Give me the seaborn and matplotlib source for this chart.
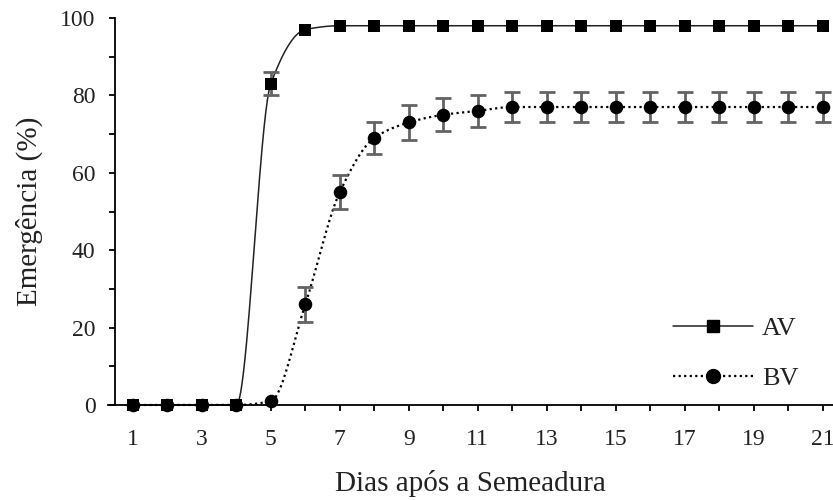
import numpy as np
import pandas as pd
import matplotlib
matplotlib.use("Agg")
import matplotlib.pyplot as plt
import seaborn as sns
from matplotlib.lines import Line2D

# Days after sowing
dias = list(range(1, 22))

# Emergence (%) for each seed lot, with standard errors
av_media = [0, 0, 0, 0, 83, 97, 98, 98, 98, 98, 98, 98, 98, 98, 98, 98, 98, 98, 98, 98, 98]
av_erro = [0, 0, 0, 0, 3, 0, 0, 0, 0, 0, 0, 0, 0, 0, 0, 0, 0, 0, 0, 0, 0]
bv_media = [0, 0, 0, 0, 1, 26, 55, 69, 73, 75, 76, 77, 77, 77, 77, 77, 77, 77, 77, 77, 77]
bv_erro = [0, 0, 0, 0, 0, 4.6, 4.4, 4.2, 4.4, 4.2, 4.2, 3.8, 3.8, 3.8, 3.8, 3.8, 3.8, 3.8, 3.8, 3.8, 3.8]

x_ticks = list(range(1, 22))
x_labels = [str(d) if d % 2 == 1 else "" for d in x_ticks]
y_ticks = list(range(0, 101, 10))
y_labels = [str(v) if v % 20 == 0 else "" for v in y_ticks]


def pchip(x, y, xs):
    """Shape-preserving cubic curve through the observed means."""
    x = np.asarray(x, float)
    y = np.asarray(y, float)
    h = np.diff(x)
    delta = np.diff(y) / h
    d = np.zeros_like(y)
    for k in range(1, len(x) - 1):
        if delta[k - 1] * delta[k] > 0:
            w1 = 2 * h[k] + h[k - 1]
            w2 = h[k] + 2 * h[k - 1]
            d[k] = (w1 + w2) / (w1 / delta[k - 1] + w2 / delta[k])
    idx = np.clip(np.searchsorted(x, xs) - 1, 0, len(x) - 2)
    t = (xs - x[idx]) / h[idx]
    h00 = 2 * t**3 - 3 * t**2 + 1
    h10 = t**3 - 2 * t**2 + t
    h01 = -2 * t**3 + 3 * t**2
    h11 = t**3 - t**2
    return h00 * y[idx] + h10 * h[idx] * d[idx] + h01 * y[idx + 1] + h11 * h[idx] * d[idx + 1]


sns.set_theme(style="ticks")
plt.rcParams["font.family"] = ["Liberation Serif", "DejaVu Serif"]

obs = pd.DataFrame({
    "dia": dias * 2,
    "emergencia": av_media + bv_media,
    "erro": av_erro + bv_erro,
    "lote": ["AV"] * len(dias) + ["BV"] * len(dias),
})

xs = np.linspace(1, 21, 801)
curvas = pd.DataFrame({
    "dia": np.concatenate([xs, xs]),
    "emergencia": np.concatenate([pchip(dias, av_media, xs), pchip(dias, bv_media, xs)]),
    "lote": ["AV"] * len(xs) + ["BV"] * len(xs),
})

fig = plt.figure(figsize=(8.33, 5.0), dpi=100)
ax = fig.add_axes([108 / 833, 95 / 500, 1 - 108 / 833, 387 / 500])

# Smooth curves
sns.lineplot(data=curvas[curvas.lote == "AV"], x="dia", y="emergencia", ax=ax,
             color="#222222", lw=1.1, linestyle="-", clip_on=False, zorder=2)
sns.lineplot(data=curvas[curvas.lote == "BV"], x="dia", y="emergencia", ax=ax,
             color="black", lw=1.6, linestyle=(0, (1, 1.5)), clip_on=False, zorder=2)

# Error bars
for lote in ["BV", "AV"]:
    sub = obs[(obs.lote == lote) & (obs.erro > 0)]
    ax.errorbar(sub.dia, sub.emergencia, yerr=sub.erro, fmt="none",
                ecolor="#636363", elinewidth=2.0, capsize=5.5, capthick=2.0, zorder=3)

# Observed means
sns.scatterplot(data=obs[obs.lote == "BV"], x="dia", y="emergencia", ax=ax,
                marker="o", s=95, color="black", edgecolor="black", linewidth=0,
                clip_on=False, zorder=4, legend=False)
sns.scatterplot(data=obs[obs.lote == "AV"], x="dia", y="emergencia", ax=ax,
                marker="s", s=80, color="black", edgecolor="black", linewidth=0,
                clip_on=False, zorder=5, legend=False)

ax.set_xlim(0.28, 21.3)
ax.set_ylim(0, 100)
ax.spines["left"].set_position(("data", 0.48))
ax.spines["top"].set_visible(False)
ax.spines["right"].set_visible(False)
for s in ["left", "bottom"]:
    ax.spines[s].set_linewidth(1.3)
    ax.spines[s].set_color("black")

ax.set_xticks(x_ticks)
ax.set_xticklabels(x_labels)
ax.set_yticks(y_ticks)
ax.set_yticklabels(y_labels)
ax.tick_params(axis="both", direction="out", length=4, width=1.3, color="black",
               labelsize=17, labelcolor="#222222")
ax.tick_params(axis="x", pad=13)
ax.tick_params(axis="y", pad=10)

ax.set_xlabel("Dias após a Semeadura", fontsize=21, color="#222222", labelpad=15)
ax.set_ylabel("Emergência (%)", fontsize=21, color="#222222", labelpad=12)

handles = [
    Line2D([], [], color="#222222", lw=1.1, marker="s", markersize=9,
           markerfacecolor="black", markeredgecolor="black"),
    Line2D([], [], color="black", lw=1.6, linestyle=(0, (1, 1.5)), marker="o",
           markersize=10, markerfacecolor="black", markeredgecolor="black"),
]
ax.legend(handles, ["AV", "BV"], loc="lower right", bbox_to_anchor=(0.985, -0.022),
          frameon=False, fontsize=19, handlelength=3.0, handletextpad=0.35,
          labelspacing=1.0, labelcolor="#222222")

fig.savefig("out.png", dpi=100)
